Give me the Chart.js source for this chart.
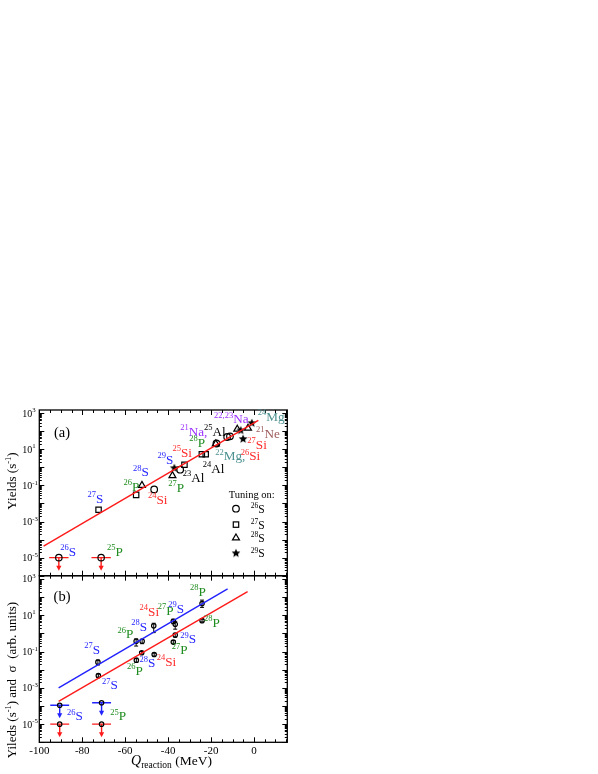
<!DOCTYPE html>
<html>
<head>
<meta charset="utf-8">
<script src="https://cdn.jsdelivr.net/npm/chart.js@4.4.0/dist/chart.umd.min.js"></script>
<style>
  html, body { margin: 0; padding: 0; background: #fff; }
  #wrap { position: relative; width: 598px; height: 774px; }
  #wrap canvas { position: absolute; left: 0; top: 0; }
</style>
</head>
<body>
<div id="wrap">
  <canvas id="chart-a" width="598" height="774"></canvas>
  <canvas id="chart-b" width="598" height="774"></canvas>
</div>
<script>
/* ---------- data: panel (a), yields per tuning isotope ---------- */
const tune26S_Q = [-46.5, -34.4, -17.5, -12.5, -11.2];
const tune26S_Y = [0.06, 0.74, 21, 48, 52];
const tune27S_Q = [-72.4, -54.9, -32.4, -24.3, -22.5];
const tune27S_Y = [0.0045, 0.03, 1.4, 5.3, 5.3];
const tune28S_Q = [-52.2, -38.0, -17.8, -7.8, -2.8];
const tune28S_Y = [0.1, 0.35, 20, 130, 147];
const tune29S_Q = [-37.1, -6.2, -5.1, -1.0];
const tune29S_Y = [0.9, 110, 37, 280];
// upper limits (26S, 25P)
const ulA_Q = [-90.9, -71.2];
const ulA_Y = [1e-5, 1e-5];
const ulA_dQ = [4.5, 4.5];
// fit line
const fitA_Q = [-98, 2];
const fitA_Y = [4.3e-5, 400];

/* ---------- data: panel (b), yields and cross sections ---------- */
const bUp_Q = [-72.7, -54.9, -52.1, -46.7, -37.6, -36.7, -24.2];
const bUp_Y = [0.026, 0.37, 0.37, 2.6, 4.6, 3.2, 44];
const bUp_lo = [0.018, 0.2, 0.27, 1.1, 3.4, 1.7, 27];
const bUp_hi = [0.034, 0.5, 0.48, 3.6, 6.0, 4.6, 68];
const bLow_Q = [-72.5, -54.8, -52.3, -46.5, -37.6, -36.7, -24.2];
const bLow_Y = [0.0047, 0.033, 0.085, 0.068, 0.33, 0.8, 5.0];
const bLow_lo = [0.0039, 0.025, 0.072, 0.056, 0.28, 0.62, 4.3];
const bLow_hi = [0.0057, 0.043, 0.1, 0.082, 0.4, 1.0, 6.0];
const ulBlue_Q = [-90.5, -71.0];
const ulBlue_Y = [1.1e-4, 1.5e-4];
const ulRed_Q = [-90.5, -71.0];
const ulRed_Y = [1e-5, 1e-5];
const ulB_dQ = [4.4, 4.4];
const fitBlue_Q = [-91, -12.3];
const fitBlue_Y = [1e-3, 282];
const fitRed_Q = [-91, -3];
const fitRed_Y = [1.8e-4, 200];

/* ---------- axes ---------- */
const X_MIN = -100, X_MAX = 15.5;
const Y_MIN = 1e-6, Y_MAX = 1500;
const xTickLabels = [-100, -80, -60, -40, -20, 0];
const yTickExps = [3, 1, -1, -3, -5];

const BLUE = '#2626ff', GREEN = '#1f8c1f', RED = '#ff2a2a', PURPLE = '#9b30ff', TEAL = '#4e9191', BROWN = '#9c5a5a', BLACK = '#000';
const FONT = '"Liberation Serif", "Times New Roman", serif';
const fnt = (s, st) => (st ? st + ' ' : '') + s + 'px ' + FONT;

// isotope labels: [mass, symbol, color, Q, log10(y)]
const labelsA = [
  ['27', 'S', BLUE, -77.5, -1.98],
  ['28', 'S', BLUE, -56.4, -0.5],
  ['26', 'P', GREEN, -60.8, -1.32],
  ['24', 'Si', RED, -49.4, -2.02],
  ['27', 'P', GREEN, -39.9, -1.37],
  ['29', 'S', BLUE, -45, 0.17],
  ['23', 'Al', BLACK, -33.2, -0.79],
  ['25', 'Si', RED, -38, 0.57],
  ['28', 'P', GREEN, -30.2, 1.13],
  ['24', 'Al', BLACK, -23.9, -0.32],
  ['21', 'Na,', PURPLE, -34.4, 1.76],
  ['25', 'Al', BLACK, -23.3, 1.76],
  ['22', 'Mg,', TEAL, -18.1, 0.39],
  ['26', 'Si', RED, -6.2, 0.39],
  ['22,23', 'Na', PURPLE, -18.6, 2.43],
  ['24', 'Mg', TEAL, 1.7, 2.57],
  ['21', 'Ne', BROWN, 0.9, 1.65],
  ['27', 'Si', RED, -3.1, 1.02],
  ['26', 'S', BLUE, -90.2, -4.89],
  ['25', 'P', GREEN, -68.5, -4.89]
];
const labelsB = [
  ['28', 'P', GREEN, -29.8, 2.06],
  ['29', 'S', BLUE, -39.9, 1.14],
  ['24', 'Si', RED, -53.3, 0.96],
  ['27', 'P', GREEN, -44.8, 1.01],
  ['28', 'S', BLUE, -57.2, 0.13],
  ['26', 'P', GREEN, -63.6, -0.28],
  ['27', 'S', BLUE, -79.1, -1.14],
  ['28', 'P', GREEN, -23.3, 0.36],
  ['29', 'S', BLUE, -34.4, -0.55],
  ['27', 'P', GREEN, -38.3, -1.16],
  ['24', 'Si', RED, -45.3, -1.81],
  ['28', 'S', BLUE, -53.3, -1.88],
  ['26', 'P', GREEN, -59.2, -2.3],
  ['27', 'S', BLUE, -70.8, -3.09],
  ['26', 'S', BLUE, -87.1, -4.79],
  ['25', 'P', GREEN, -67, -4.79]
];

const pts = (qs, ys) => qs.map((q, i) => ({ x: q, y: ys[i] }));

function makeStar(r) {
  const c = document.createElement('canvas');
  c.width = c.height = Math.ceil(2 * r + 2);
  const g = c.getContext('2d');
  g.beginPath();
  for (let i = 0; i < 10; i++) {
    const a = -Math.PI / 2 + i * Math.PI / 5;
    const rr = i % 2 ? r * 0.45 : r;
    g.lineTo(c.width / 2 + rr * Math.cos(a), c.height / 2 + rr * Math.sin(a));
  }
  g.closePath();
  g.fillStyle = '#000';
  g.fill();
  return c;
}
const STAR = makeStar(4.6);

function drawRuns(ctx, runs, x, y, align) {
  let w = 0;
  runs.forEach(r => { ctx.font = r.font; r.w = ctx.measureText(r.t).width; w += r.w; });
  let cx = align === 'center' ? x - w / 2 : align === 'right' ? x - w : x;
  ctx.textAlign = 'left';
  ctx.textBaseline = 'alphabetic';
  runs.forEach(r => {
    ctx.font = r.font;
    ctx.fillStyle = r.color || '#000';
    ctx.fillText(r.t, cx, y + (r.dy || 0));
    cx += r.w;
  });
}

function drawIso(ctx, mass, sym, color, px, py) {
  drawRuns(ctx, [
    { t: mass, font: fnt(8.5), dy: -5.8, color },
    { t: sym, font: fnt(13.2), color }
  ], px, py, 'left');
}

// frame + inward ticks + tick labels
function axesPlugin(showX) {
  return {
    id: 'axes' + (showX ? 'B' : 'A'),
    afterDraw(chart) {
      const { ctx, chartArea: a, scales: { x, y } } = chart;
      ctx.save();
      ctx.strokeStyle = '#000';
      ctx.lineWidth = 1;
      ctx.beginPath();
      for (let v = -100; v <= 15; v += 5) {
        const px = Math.round(x.getPixelForValue(v)) + 0.5;
        const len = v % 20 === 0 ? 5 : 3;
        ctx.moveTo(px, a.bottom); ctx.lineTo(px, a.bottom - len);
        ctx.moveTo(px, a.top); ctx.lineTo(px, a.top + len);
      }
      for (let k = -6; k <= 3; k++) {
        for (let m = 1; m < 10; m++) {
          const v = m * Math.pow(10, k);
          if (v < Y_MIN || v > Y_MAX) continue;
          const py = Math.round(y.getPixelForValue(v)) + 0.5;
          const len = m === 1 ? 5 : 2.5;
          ctx.moveTo(a.left, py); ctx.lineTo(a.left + len, py);
          ctx.moveTo(a.right, py); ctx.lineTo(a.right - len, py);
        }
      }
      ctx.stroke();
      ctx.lineWidth = 1.3;
      ctx.strokeRect(a.left, a.top, a.right - a.left, a.bottom - a.top);

      yTickExps.forEach(e => {
        const py = y.getPixelForValue(Math.pow(10, e));
        drawRuns(ctx, [
          { t: '10', font: fnt(10) },
          { t: String(e), font: fnt(6.8), dy: -4.2 }
        ], a.left - 17, py + 3.4, 'left');
      });
      if (showX) {
        ctx.font = fnt(11);
        ctx.fillStyle = '#000';
        ctx.textAlign = 'center';
        xTickLabels.forEach(v => ctx.fillText(String(v), x.getPixelForValue(v), a.bottom + 11.5));
      }
      ctx.restore();
    }
  };
}

function upperLimits(ctx, x, y, qs, ys, dq, color) {
  ctx.save();
  ctx.strokeStyle = color;
  ctx.fillStyle = color;
  ctx.lineWidth = 1.4;
  qs.forEach((q, i) => {
    const px = x.getPixelForValue(q), py = y.getPixelForValue(ys[i]);
    ctx.beginPath();
    ctx.moveTo(x.getPixelForValue(q - dq[i]), py);
    ctx.lineTo(x.getPixelForValue(q + dq[i]), py);
    ctx.moveTo(px, py);
    ctx.lineTo(px, py + 9);
    ctx.stroke();
    ctx.beginPath();
    ctx.moveTo(px - 2.6, py + 8);
    ctx.lineTo(px + 2.6, py + 8);
    ctx.lineTo(px, py + 13);
    ctx.closePath();
    ctx.fill();
  });
  ctx.restore();
}

function errorBars(ctx, x, y, qs, lo, hi) {
  ctx.save();
  ctx.strokeStyle = '#000';
  ctx.lineWidth = 1;
  ctx.beginPath();
  qs.forEach((q, i) => {
    const px = x.getPixelForValue(q);
    const p1 = y.getPixelForValue(lo[i]), p2 = y.getPixelForValue(hi[i]);
    ctx.moveTo(px, p1); ctx.lineTo(px, p2);
    ctx.moveTo(px - 2, p1); ctx.lineTo(px + 2, p1);
    ctx.moveTo(px - 2, p2); ctx.lineTo(px + 2, p2);
  });
  ctx.stroke();
  ctx.restore();
}

const openPt = (style, r) => ({
  showLine: false, pointStyle: style, pointRadius: r,
  borderColor: '#000', backgroundColor: 'rgba(0,0,0,0)', pointBorderWidth: 1.2
});

/* ---------- panel (a) ---------- */
new Chart(document.getElementById('chart-a'), {
  type: 'scatter',
  data: {
    datasets: [
      { data: pts(fitA_Q, fitA_Y), showLine: true, borderColor: '#ff1a1a', borderWidth: 1.4, pointRadius: 0 },
      { data: pts(ulA_Q, ulA_Y), ...openPt('circle', 3.2) },
      { data: pts(tune26S_Q, tune26S_Y), ...openPt('circle', 3.3) },
      { data: pts(tune27S_Q, tune27S_Y), ...openPt('rect', 3.8) },
      { data: pts(tune28S_Q, tune28S_Y), ...openPt('triangle', 4) },
      { data: pts(tune29S_Q, tune29S_Y), showLine: false, pointStyle: STAR, pointRadius: 4 }
    ]
  },
  options: {
    responsive: false, animation: false,
    layout: { padding: { left: 39.3, right: 310.7, top: 410, bottom: 198.3 } },
    plugins: { legend: { display: false }, tooltip: { enabled: false } },
    scales: {
      x: { type: 'linear', min: X_MIN, max: X_MAX, display: false },
      y: { type: 'logarithmic', min: Y_MIN, max: Y_MAX, display: false }
    }
  },
  plugins: [axesPlugin(false), {
    id: 'decorA',
    beforeDatasetsDraw(chart) {
      const { ctx, scales: { x, y } } = chart;
      upperLimits(ctx, x, y, ulA_Q, ulA_Y, ulA_dQ, '#ff1a1a');
    },
    afterDraw(chart) {
      const { ctx, chartArea: a, scales: { x, y } } = chart;
      ctx.save();
      labelsA.forEach(l => drawIso(ctx, l[0], l[1], l[2], x.getPixelForValue(l[3]), y.getPixelForValue(Math.pow(10, l[4]))));
      drawRuns(ctx, [{ t: '(a)', font: fnt(14.5) }], x.getPixelForValue(-89.4), y.getPixelForValue(Math.pow(10, 1.96)) + 4.8, 'center');
      // legend
      const lx = x.getPixelForValue(-8.4), tx = x.getPixelForValue(-1.5);
      drawRuns(ctx, [{ t: 'Tuning on:', font: fnt(10.5) }], x.getPixelForValue(-11.8), y.getPixelForValue(Math.pow(10, -1.68)), 'left');
      const rows = [-2.29, -3.17, -3.91, -4.76].map(e => y.getPixelForValue(Math.pow(10, e)));
      ctx.strokeStyle = '#000'; ctx.lineWidth = 1.2;
      ctx.beginPath(); ctx.arc(lx, rows[0], 3.3, 0, 2 * Math.PI); ctx.stroke();
      ctx.strokeRect(lx - 2.7, rows[1] - 2.7, 5.4, 5.4);
      ctx.beginPath(); ctx.moveTo(lx, rows[2] - 4); ctx.lineTo(lx + 3.5, rows[2] + 2); ctx.lineTo(lx - 3.5, rows[2] + 2); ctx.closePath(); ctx.stroke();
      ctx.drawImage(STAR, lx - STAR.width / 2, rows[3] - STAR.height / 2);
      ['26', '27', '28', '29'].forEach((m, i) => drawRuns(ctx, [
        { t: m, font: fnt(7.5), dy: -4.5 }, { t: 'S', font: fnt(11.5) }
      ], tx, rows[i] + 4, 'left'));
      // y title
      ctx.translate(11.7, 481);
      ctx.rotate(-Math.PI / 2);
      drawRuns(ctx, [
        { t: 'Yields (s', font: fnt(13) }, { t: '-1', font: fnt(8.5), dy: -5 }, { t: ')', font: fnt(13) }
      ], 0, 4.5, 'center');
      ctx.restore();
    }
  }]
});

/* ---------- panel (b) ---------- */
new Chart(document.getElementById('chart-b'), {
  type: 'scatter',
  data: {
    datasets: [
      { data: pts(fitBlue_Q, fitBlue_Y), showLine: true, borderColor: '#2222ff', borderWidth: 1.4, pointRadius: 0 },
      { data: pts(fitRed_Q, fitRed_Y), showLine: true, borderColor: '#ff1a1a', borderWidth: 1.4, pointRadius: 0 },
      { data: pts(bUp_Q, bUp_Y), ...openPt('circle', 2.2) },
      { data: pts(bLow_Q, bLow_Y), ...openPt('circle', 2.2) },
      { data: pts(ulBlue_Q, ulBlue_Y), ...openPt('circle', 2.2) },
      { data: pts(ulRed_Q, ulRed_Y), ...openPt('circle', 2.2) }
    ]
  },
  options: {
    responsive: false, animation: false,
    layout: { padding: { left: 39.3, right: 310.7, top: 575.7, bottom: 31.7 } },
    plugins: { legend: { display: false }, tooltip: { enabled: false } },
    scales: {
      x: { type: 'linear', min: X_MIN, max: X_MAX, display: false },
      y: { type: 'logarithmic', min: Y_MIN, max: Y_MAX, display: false }
    }
  },
  plugins: [axesPlugin(true), {
    id: 'decorB',
    beforeDatasetsDraw(chart) {
      const { ctx, scales: { x, y } } = chart;
      errorBars(ctx, x, y, bUp_Q, bUp_lo, bUp_hi);
      errorBars(ctx, x, y, bLow_Q, bLow_lo, bLow_hi);
      upperLimits(ctx, x, y, ulBlue_Q, ulBlue_Y, ulB_dQ, '#2222ff');
      upperLimits(ctx, x, y, ulRed_Q, ulRed_Y, ulB_dQ, '#ff1a1a');
    },
    afterDraw(chart) {
      const { ctx, chartArea: a, scales: { x, y } } = chart;
      ctx.save();
      labelsB.forEach(l => drawIso(ctx, l[0], l[1], l[2], x.getPixelForValue(l[3]), y.getPixelForValue(Math.pow(10, l[4]))));
      drawRuns(ctx, [{ t: '(b)', font: fnt(14.5) }], x.getPixelForValue(-89.4), y.getPixelForValue(Math.pow(10, 2.06)) + 4.8, 'center');
      // x title
      drawRuns(ctx, [
        { t: 'Q', font: fnt(14, 'italic') },
        { t: 'reaction', font: fnt(9.5), dy: 3 },
        { t: ' (MeV)', font: fnt(13.5) }
      ], 171.5, a.bottom + 22.5, 'center');
      // y title
      ctx.translate(11.7, 680);
      ctx.rotate(-Math.PI / 2);
      drawRuns(ctx, [
        { t: 'Yileds (s', font: fnt(13) }, { t: '-1', font: fnt(8.5), dy: -5 },
        { t: ') and  \u03c3  (arb. units)', font: fnt(13) }
      ], 0, 4.5, 'center');
      ctx.restore();
    }
  }]
});
</script>
</body>
</html>
